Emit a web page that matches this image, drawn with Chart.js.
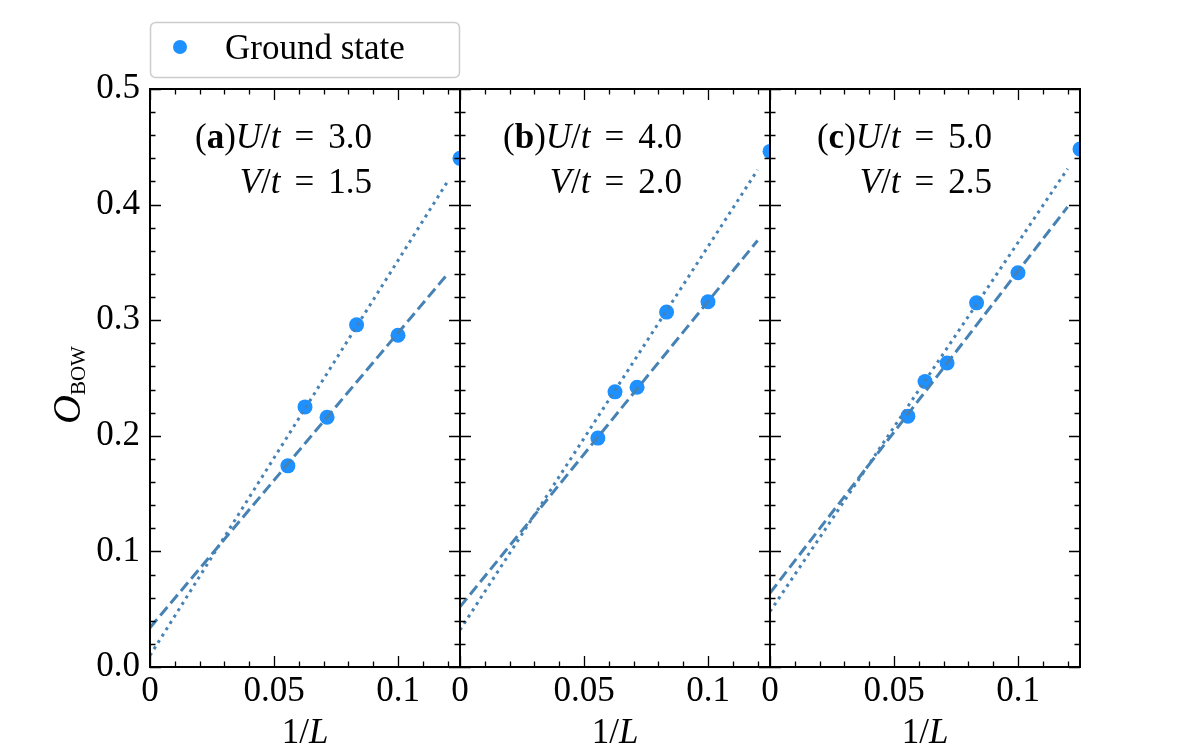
<!DOCTYPE html>
<html>
<head>
<meta charset="utf-8">
<script src="https://cdn.jsdelivr.net/npm/chart.js@4.4.1/dist/chart.umd.min.js"></script>
<style>
html, body { margin: 0; padding: 0; background: #fff; }
#wrap { position: relative; width: 1200px; height: 750px; }
canvas { position: absolute; left: 0; top: 0; }
</style>
</head>
<body>
<div id="wrap">
  <canvas id="panelA" width="1200" height="750"></canvas>
  <canvas id="panelB" width="1200" height="750"></canvas>
  <canvas id="panelC" width="1200" height="750"></canvas>
</div>
<script>
// 1/L for L = 18, 16, 14, 12, 10, 8
const invL = [0.0556, 0.0625, 0.0714, 0.0833, 0.1, 0.125];

// ground state O_BOW per panel
const bowA = [0.174, 0.225, 0.216, 0.296, 0.287, 0.440];
const bowB = [0.198, 0.238, 0.242, 0.307, 0.316, 0.446];
const bowC = [0.217, 0.247, 0.263, 0.315, 0.341, 0.448];

// fit lines, evaluated at both ends
const fitX = [0, 0.12];
const dashedA = [0.034, 0.340];
const dottedA = [0.010, 0.420];
const dashedB = [0.052, 0.369];
const dottedB = [0.032, 0.430];
const dashedC = [0.064, 0.398];
const dottedC = [0.048, 0.431];

const panelTags = ['a', 'b', 'c'];
const uLabels = ['3.0', '4.0', '5.0'];
const vLabels = ['1.5', '2.0', '2.5'];

const SERIF = '"Liberation Serif", "Times New Roman", serif';
const POINT_COLOR = '#1E90FF';
const LINE_COLOR = '#4682B4';

// chart area edges of the three panels
const panelLeft = [150, 460, 770];
const panelRight = [460, 770, 1080];
const areaTop = 89;
const areaBottom = 667;

function drawParts(ctx, parts, x, y, align) {
    let w = 0;
    parts.forEach(p => {
        if (p.gap) { w += p.gap; return; }
        ctx.font = p.font;
        w += ctx.measureText(p.t).width;
    });
    let cx = align === 'right' ? x - w : align === 'center' ? x - w / 2 : x;
    ctx.textAlign = 'left';
    ctx.textBaseline = 'alphabetic';
    parts.forEach(p => {
        if (p.gap) { cx += p.gap; return; }
        ctx.font = p.font;
        ctx.fillText(p.t, cx, y + (p.dy || 0));
        cx += ctx.measureText(p.t).width;
    });
}

function makeDecor(idx) {
    return {
        id: 'decor' + idx,
        afterDatasetsDraw(chart) {
            const { ctx, chartArea: a, scales } = chart;
            const x = scales.x, y = scales.y;
            ctx.save();
            ctx.strokeStyle = '#000';
            ctx.lineWidth = 1.3;
            ctx.beginPath();
            // x ticks, inward on bottom and top
            for (let i = 0; i <= 12; i++) {
                const px = Math.round(x.getPixelForValue(i * 0.01)) + 0.5;
                const len = i % 5 === 0 ? 11 : 5.5;
                ctx.moveTo(px, a.bottom); ctx.lineTo(px, a.bottom - len);
                ctx.moveTo(px, a.top); ctx.lineTo(px, a.top + len);
            }
            // y ticks, inward on left and right
            for (let i = 0; i <= 25; i++) {
                const py = Math.round(y.getPixelForValue(i * 0.02)) + 0.5;
                const len = i % 5 === 0 ? 11 : 5.5;
                ctx.moveTo(a.left, py); ctx.lineTo(a.left + len, py);
                ctx.moveTo(a.right, py); ctx.lineTo(a.right - len, py);
            }
            ctx.stroke();
            ctx.lineWidth = 2;
            ctx.strokeRect(a.left, a.top, a.right - a.left, a.bottom - a.top);
            ctx.restore();
        },
        afterDraw(chart) {
            const { ctx, chartArea: a } = chart;
            ctx.save();
            ctx.fillStyle = '#000';
            const f = '35px ' + SERIF;
            const fi = 'italic 35px ' + SERIF;
            const fb = 'bold 35px ' + SERIF;
            const rx = a.left + 222;
            drawParts(ctx, [
                { t: '(', font: f }, { t: panelTags[idx], font: fb }, { t: ')', font: f },
                { t: 'U', font: fi }, { t: '/', font: f }, { t: 't', font: fi },
                { gap: 14 }, { t: '=', font: f }, { gap: 14 }, { t: uLabels[idx], font: f }
            ], rx, 148, 'right');
            drawParts(ctx, [
                { t: 'V', font: fi }, { t: '/', font: f }, { t: 't', font: fi },
                { gap: 14 }, { t: '=', font: f }, { gap: 14 }, { t: vLabels[idx], font: f }
            ], rx, 193, 'right');

            // x axis title
            drawParts(ctx, [{ t: '1/', font: f }, { t: 'L', font: fi }],
                (a.left + a.right) / 2, 743, 'center');

            if (idx === 0) {
                // y axis title
                ctx.save();
                ctx.translate(80, 385);
                ctx.rotate(-Math.PI / 2);
                drawParts(ctx, [
                    { t: 'O', font: 'italic 40px ' + SERIF },
                    { t: 'BOW', font: '21px ' + SERIF, dy: 5 }
                ], 0, 0, 'center');
                ctx.restore();

                // legend
                ctx.beginPath();
                ctx.roundRect(150.5, 22.5, 309, 55, 5);
                ctx.fillStyle = '#fff';
                ctx.fill();
                ctx.strokeStyle = '#cccccc';
                ctx.lineWidth = 1.5;
                ctx.stroke();
                ctx.beginPath();
                ctx.arc(180, 47, 7, 0, Math.PI * 2);
                ctx.fillStyle = POINT_COLOR;
                ctx.fill();
                ctx.fillStyle = '#000';
                drawParts(ctx, [{ t: 'Ground state', font: '35px ' + SERIF }], 225, 59, 'left');
            }
            ctx.restore();
        }
    };
}

function makePanel(canvasId, idx, bow, dashed, dotted) {
    const left = panelLeft[idx];
    const right = panelRight[idx];
    return new Chart(document.getElementById(canvasId), {
        type: 'scatter',
        data: {
            datasets: [
                {
                    label: 'Ground state',
                    data: invL.map((v, i) => ({ x: v, y: bow[i] })),
                    pointRadius: 7.5,
                    pointBackgroundColor: POINT_COLOR,
                    pointBorderWidth: 0,
                    clip: 0,
                    order: 2
                },
                {
                    label: 'dashed fit',
                    data: fitX.map((v, i) => ({ x: v, y: dashed[i] })),
                    showLine: true,
                    pointRadius: 0,
                    borderColor: LINE_COLOR,
                    borderWidth: 3,
                    borderDash: [11, 5],
                    clip: 0,
                    order: 1
                },
                {
                    label: 'dotted fit',
                    data: fitX.map((v, i) => ({ x: v, y: dotted[i] })),
                    showLine: true,
                    pointRadius: 0,
                    borderColor: LINE_COLOR,
                    borderWidth: 3,
                    borderDash: [3, 4.5],
                    clip: 0,
                    order: 1
                }
            ]
        },
        options: {
            responsive: false,
            animation: false,
            events: [],
            layout: { padding: { left: 0, right: 1200 - right, top: areaTop, bottom: 0 } },
            plugins: { legend: { display: false }, tooltip: { enabled: false } },
            scales: {
                x: {
                    type: 'linear',
                    min: 0,
                    max: 0.125,
                    grid: { display: false, drawTicks: false },
                    border: { display: false },
                    ticks: {
                        stepSize: 0.05,
                        includeBounds: false,
                        padding: 4,
                        color: '#000',
                        font: { family: SERIF, size: 35 },
                        callback: v => String(Math.round(v * 100) / 100)
                    },
                    afterFit: s => { s.height = 750 - areaBottom; }
                },
                y: {
                    type: 'linear',
                    min: 0,
                    max: 0.5,
                    grid: { display: false, drawTicks: false },
                    border: { display: false },
                    ticks: {
                        display: idx === 0,
                        stepSize: 0.1,
                        padding: 10,
                        color: '#000',
                        font: { family: SERIF, size: 35 },
                        callback: v => v.toFixed(1)
                    },
                    afterFit: s => { s.width = left; }
                }
            }
        },
        plugins: [makeDecor(idx)]
    });
}

makePanel('panelA', 0, bowA, dashedA, dottedA);
makePanel('panelB', 1, bowB, dashedB, dottedB);
makePanel('panelC', 2, bowC, dashedC, dottedC);
</script>
</body>
</html>
